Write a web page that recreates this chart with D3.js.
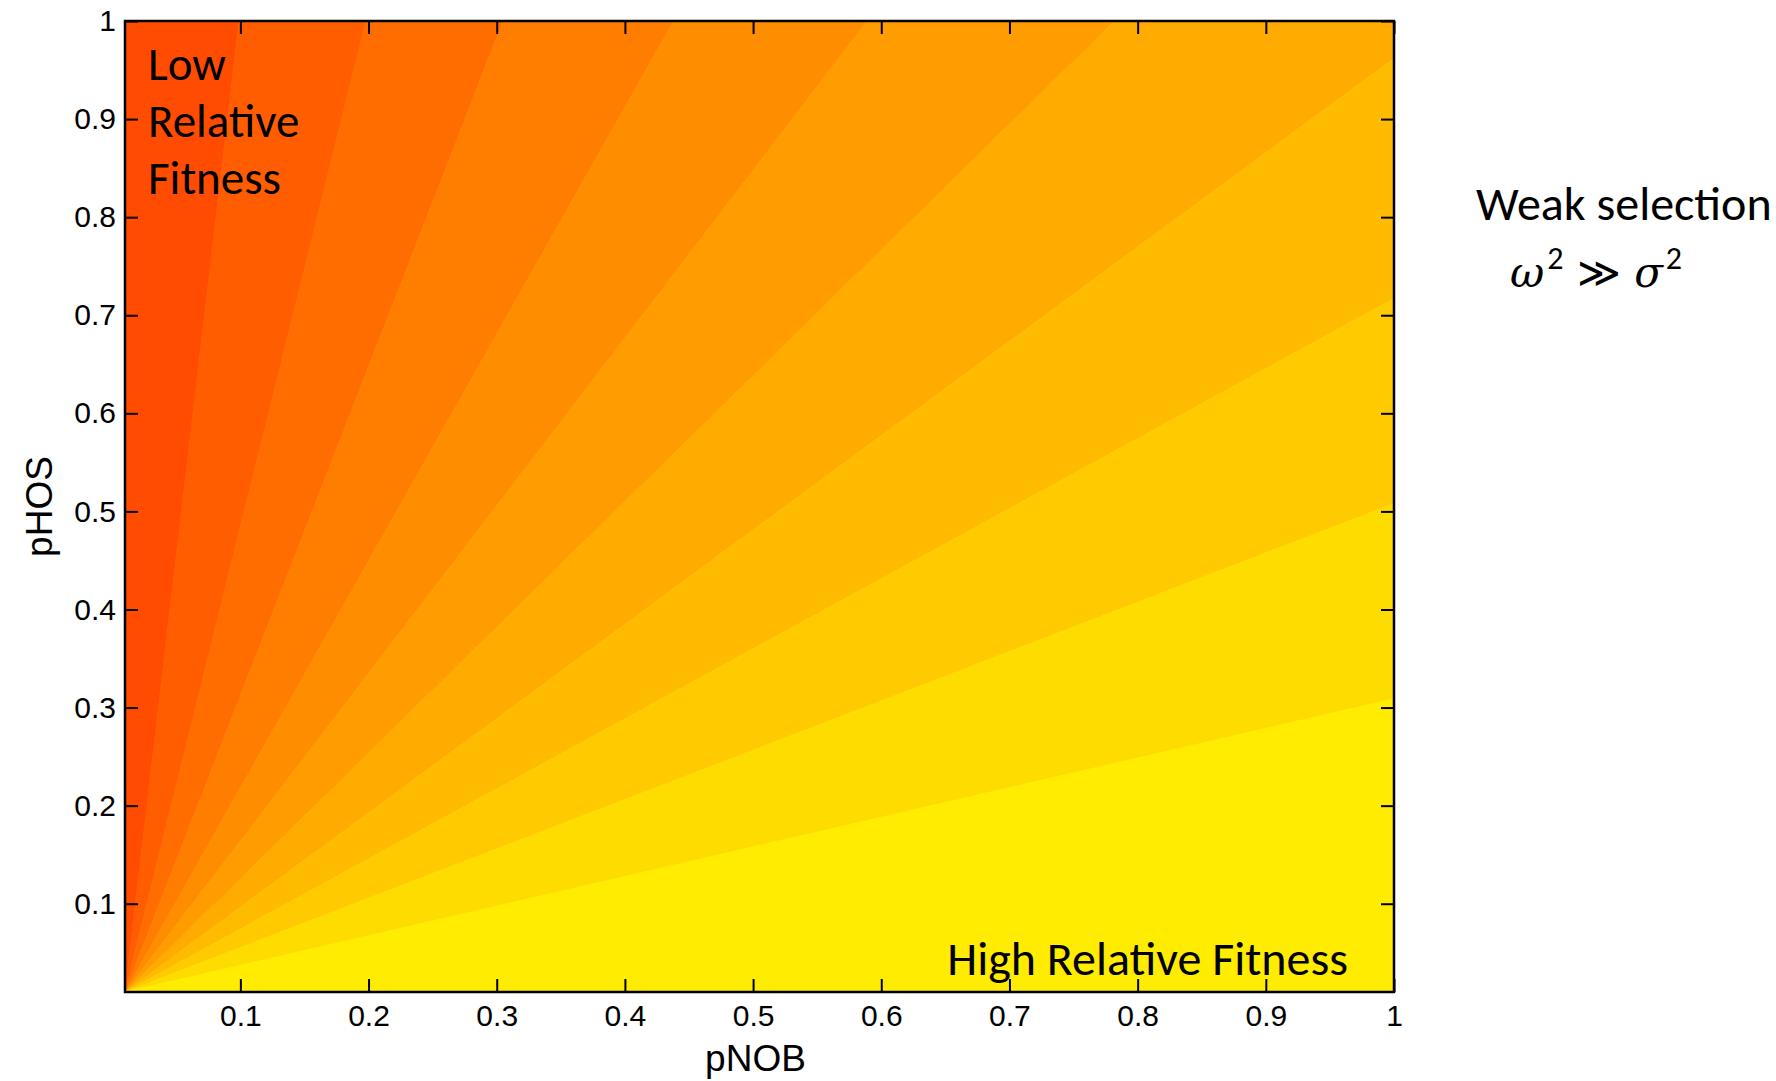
<!DOCTYPE html>
<html>
<head>
  <meta charset="utf-8">
  <script src="https://d3js.org/d3.v7.min.js"></script>
  <style>
    body { margin: 0; background: #fff; }
    .tick text { font-family: "Liberation Sans", Arial, sans-serif; }
  </style>
</head>
<body>
<script type="text/javascript">

/*************************************************************************************************/
/* Data */

// where each contour boundary leaves the plot: first along the top edge (pNOB at pHOS = 1),
// then along the right edge (pHOS at pNOB = 1)
var top_cross   = [0.099, 0.198, 0.305, 0.438, 0.589, 0.782];
var right_cross = [0.962, 0.717, 0.508, 0.309];

// band fill, from the low-fitness corner (top left) to the high-fitness corner (bottom right)
var band_colors = ["#ff4c00", "#ff5d00", "#ff6d00", "#ff7e00", "#ff8d00", "#ff9c00",
                   "#ffab00", "#ffbb00", "#ffcb00", "#ffdc00", "#ffec00"];

var tick_values = [0.1, 0.2, 0.3, 0.4, 0.5, 0.6, 0.7, 0.8, 0.9, 1];
var tick_labels = ["0.1", "0.2", "0.3", "0.4", "0.5", "0.6", "0.7", "0.8", "0.9", "1"];

var x_domain = [0.01, 1];
var y_domain = [0.01, 1];

/*************************************************************************************************/

var w = 1776;
var h = 1081;

var margin = {top: 21, right: 382, bottom: 89, left: 125},
    width = w - margin.left - margin.right,
    height = h - margin.top - margin.bottom;

var svg = d3.select("body")
            .append("svg")
            .attr("width", w)
            .attr("height", h);

svg.append("rect")
   .attr("width", w).attr("height", h)
   .attr("fill", "#fff");

var plot = svg.append("g")
              .attr("transform", "translate(" + margin.left + "," + margin.top + ")");

var x = d3.scaleLinear().domain(x_domain).range([0, width]);
var y = d3.scaleLinear().domain(y_domain).range([height, 0]);

/*************************************************************************************************/
/* Bands: each one is a wedge from the bottom-left corner between two boundaries */

var edge_points = [[x_domain[0], y_domain[1]]];
top_cross.forEach(function(v) { edge_points.push([v, y_domain[1]]); });
right_cross.forEach(function(v) { edge_points.push([x_domain[1], v]); });
edge_points.push([x_domain[1], y_domain[0]]);

var origin = [x_domain[0], y_domain[0]];

var bands = band_colors.map(function(c, i) {
    var a = edge_points[i], b = edge_points[i + 1];
    var pts = [origin, a];
    // wedge wraps round the top-right corner
    if (a[1] === y_domain[1] && b[0] === x_domain[1] && b[1] !== y_domain[1]) {
        pts.push([x_domain[1], y_domain[1]]);
    }
    pts.push(b);
    return {color: c, pts: pts};
});

var line = d3.line()
             .x(function(d) { return x(d[0]); })
             .y(function(d) { return y(d[1]); });

plot.append("g").selectAll("path")
    .data(bands)
    .enter()
    .append("path")
    .attr("d", function(d) { return line(d.pts) + "Z"; })
    .attr("fill", function(d) { return d.color; })
    .attr("stroke", function(d) { return d.color; })
    .attr("stroke-width", 0.8)
    .attr("stroke-linejoin", "round");

/*************************************************************************************************/
/* Axes, ticks pointing in on all four sides */

var fmt = function(d) { return tick_labels[tick_values.indexOf(d)]; };
var tick_len = 13;

var x_axis = plot.append("g")
    .attr("transform", "translate(0," + height + ")")
    .call(d3.axisBottom(x).tickValues(tick_values).tickFormat(fmt)
            .tickSizeInner(-tick_len).tickSizeOuter(0).tickPadding(13));

var y_axis = plot.append("g")
    .call(d3.axisLeft(y).tickValues(tick_values).tickFormat(fmt)
            .tickSizeInner(-tick_len).tickSizeOuter(0).tickPadding(9));

plot.append("g")
    .call(d3.axisTop(x).tickValues(tick_values).tickFormat("")
            .tickSizeInner(-tick_len).tickSizeOuter(0));

plot.append("g")
    .attr("transform", "translate(" + width + ",0)")
    .call(d3.axisRight(y).tickValues(tick_values).tickFormat("")
            .tickSizeInner(-tick_len).tickSizeOuter(0));

plot.selectAll(".domain").remove();
plot.selectAll(".tick line").attr("stroke", "#000").attr("stroke-width", 2);
plot.selectAll(".tick text").attr("font-size", 30).attr("fill", "#000");

plot.append("rect")
    .attr("width", width).attr("height", height)
    .attr("fill", "none")
    .attr("stroke", "#000")
    .attr("stroke-width", 2.5);

/*************************************************************************************************/
/* Labels */

svg.append("text")
   .attr("x", margin.left + width / 2 - 4)
   .attr("y", 1071)
   .attr("text-anchor", "middle")
   .style("font-family", "Liberation Sans, Arial, sans-serif")
   .style("font-size", "37px")
   .text("pNOB");

svg.append("text")
   .attr("transform", "translate(52," + (margin.top + height / 2) + ") rotate(-90)")
   .attr("text-anchor", "middle")
   .style("font-family", "Liberation Sans, Arial, sans-serif")
   .style("font-size", "37px")
   .text("pHOS");

var note_font = "Carlito, Calibri, Lato, sans-serif";

var low_lines = ["Low", "Relative", "Fitness"];
svg.append("g").selectAll("text")
   .data(low_lines)
   .enter()
   .append("text")
   .attr("x", 148)
   .attr("y", function(d, i) { return 80 + i * 57; })
   .style("font-family", note_font)
   .style("font-size", "47px")
   .text(function(d) { return d; });

svg.append("text")
   .attr("x", 1348)
   .attr("y", 975)
   .attr("text-anchor", "end")
   .style("font-family", note_font)
   .style("font-size", "48px")
   .text("High Relative Fitness");

svg.append("text")
   .attr("x", 1476)
   .attr("y", 220)
   .style("font-family", note_font)
   .style("font-size", "48px")
   .text("Weak selection");

var eq = svg.append("text")
   .attr("x", 1510)
   .attr("y", 287)
   .style("font-family", "DejaVu Serif, serif")
   .style("font-size", "42px");

eq.append("tspan").style("font-style", "italic").text("\u03c9");
eq.append("tspan").attr("dy", -18).attr("dx", 3)
  .style("font-family", note_font).style("font-size", "32px").text("2");
eq.append("tspan").attr("dy", 18).text(" \u226b ");
eq.append("tspan").style("font-style", "italic").text("\u03c3");
eq.append("tspan").attr("dy", -18).attr("dx", 3)
  .style("font-family", note_font).style("font-size", "32px").text("2");

</script>
</body>
</html>
